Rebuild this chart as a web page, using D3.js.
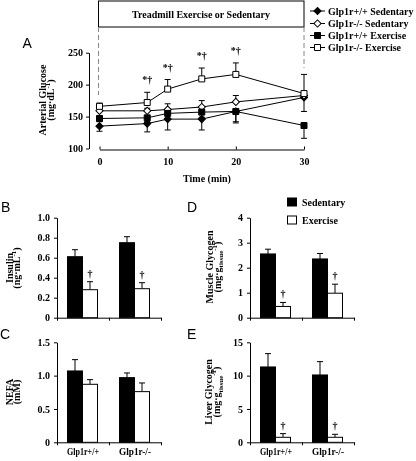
<!DOCTYPE html>
<html><head><meta charset="utf-8">
<script src="https://cdn.jsdelivr.net/npm/d3@7"></script>
<style>body{margin:0;background:#fff}svg{display:block;will-change:transform}</style>
</head><body>
<svg id="c" width="416" height="461"></svg>
<script>
// ---------- DATA ----------
const times = [0, 7, 10, 15, 20, 30];
const seriesNames = ["Glp1r+/+ Sedentary", "Glp1r-/- Sedentary", "Glp1r+/+ Exercise", "Glp1r-/- Exercise"];
const wtSed = [135, 139, 146, 146, 158, 180];
const wtSedErr = [8, 13, 17, 17, 18, 22];
const koSed = [159, 159, 161, 165, 173, 183];
const koSedErr = [4, 4, 9, 10, 10, 6];
const wtEx = [147, 148, 155, 157, 158, 136];
const wtExErr = [5, 6, 8, 8, 16, 20];
const koEx = [166, 172, 193, 209, 216, 186];
const koExErr = [5, 16, 15, 17, 18, 30];
const sigTimes = [7, 10, 15, 20];
const sigLabel = "*\u2020";
const glucoseTicks = [100, 150, 200, 250];
const timeTicks = [0, 10, 20, 30];

const genotypes = ["Glp1r+/+", "Glp1r-/-"];
const conditions = ["Sedentary", "Exercise"];
const insulinSed = [0.61, 0.75], insulinSedErr = [0.07, 0.06];
const insulinEx = [0.28, 0.29], insulinExErr = [0.08, 0.06];
const nefaSed = [1.07, 0.97], nefaSedErr = [0.17, 0.07];
const nefaEx = [0.87, 0.76], nefaExErr = [0.07, 0.13];
const muscleSed = [2.55, 2.35], muscleSedErr = [0.19, 0.22];
const muscleEx = [0.45, 0.98], muscleExErr = [0.16, 0.36];
const liverSed = [11.3, 10.1], liverSedErr = [2.0, 2.0];
const liverEx = [0.75, 0.75], liverExErr = [0.55, 0.45];
const insulinTicks = [0, 0.2, 0.4, 0.6, 0.8, 1.0];
const nefaTicks = [0, 0.5, 1.0, 1.5];
const muscleTicks = [0, 1, 2, 3, 4];
const liverTicks = [0, 5, 10, 15];

// ---------- SETUP ----------
const svg = d3.select("#c");
svg.append("rect").attr("width", 416).attr("height", 461).attr("fill", "#fff");
const SERIF = "'Liberation Serif','Times New Roman',serif";
const SANS = "'Liberation Sans',Arial,sans-serif";

function styleAxis(g, fs) {
  g.selectAll("path,line").attr("stroke", "#000").attr("stroke-width", 1);
  g.selectAll("text").attr("font-family", SERIF).attr("font-weight", "bold")
    .attr("font-size", fs || 10).attr("fill", "#000");
}
function panelLetter(t, x, y) {
  svg.append("text").attr("x", x).attr("y", y).text(t)
    .attr("font-family", SANS).attr("font-size", 14).attr("fill", "#000");
}
function yTitle(x1, x2, cy, line1, parts) {
  svg.append("text").attr("transform", `translate(${x1},${cy}) rotate(-90)`)
    .attr("text-anchor", "middle").attr("dy", "0.35em").attr("fill", "#000")
    .attr("font-family", SERIF).attr("font-weight", "bold").attr("font-size", 10)
    .text(line1);
  const t = svg.append("text").attr("transform", `translate(${x2},${cy}) rotate(-90)`)
    .attr("text-anchor", "middle").attr("dy", "0.35em").attr("fill", "#000")
    .attr("font-family", SERIF).attr("font-weight", "bold").attr("font-size", 10);
  let cur = 0;
  parts.forEach(([txt, kind]) => {
    const target = kind === "sup" ? -4 : kind === "sub" ? 2.5 : 0;
    t.append("tspan").attr("dy", target - cur)
      .attr("font-size", kind === "n" ? 10 : 7).text(txt);
    cur = target;
  });
}
function dagger(x, y, txt) {
  svg.append("text").attr("transform", `translate(${x},${y}) rotate(0.01)`)
    .attr("text-anchor", "middle").attr("fill", "#000")
    .attr("font-family", SERIF).attr("font-weight", "bold").attr("font-size", 10).text(txt);
}

// ---------- PANEL A ----------
const xA = d3.scaleLinear().domain([0, 30]).range([99.5, 304]);
const yA = d3.scaleLinear().domain([100, 250]).range([148.5, 52.7]);

svg.append("rect").attr("x", 98.5).attr("y", 1).attr("width", 205.5).attr("height", 26)
  .attr("fill", "#fff").attr("stroke", "#000");
svg.append("text").attr("x", 201).attr("y", 17.5).attr("text-anchor", "middle").attr("fill", "#000")
  .attr("font-family", SERIF).attr("font-weight", "bold").attr("font-size", 10)
  .text("Treadmill Exercise or Sedentary");
svg.append("line").attr("x1", xA(0) - 1).attr("x2", xA(0) - 1).attr("y1", 27).attr("y2", 95)
  .attr("stroke", "#888").attr("stroke-dasharray", "5,3");
svg.append("line").attr("x1", xA(30)).attr("x2", xA(30)).attr("y1", 27).attr("y2", 68)
  .attr("stroke", "#888").attr("stroke-dasharray", "5,3");

const gyA = svg.append("g").attr("transform", "translate(89,0)")
  .call(d3.axisLeft(yA).tickValues(glucoseTicks).tickSize(3).tickSizeOuter(0).tickPadding(3));
styleAxis(gyA);
const gxA = svg.append("g").attr("transform", "translate(0,149.5)")
  .call(d3.axisBottom(xA).tickValues(timeTicks).tickSize(-3).tickSizeOuter(0));
styleAxis(gxA);
gxA.selectAll("text").attr("y", 15.5).attr("dy", 0);
svg.append("text").attr("x", 207).attr("y", 181.5).attr("text-anchor", "middle").attr("fill", "#000")
  .attr("font-family", SERIF).attr("font-weight", "bold").attr("font-size", 10).text("Time (min)");
yTitle(42, 54, 100, "Arterial Glucose", [["(mg\u00b7dL", "n"], ["-1", "sup"], [")", "n"]]);
panelLetter("A", 22.5, 47.5);

const series = [
  { name: seriesNames[0], v: wtSed, e: wtSedErr, dir: 1, shape: "diamond", fill: "#000" },
  { name: seriesNames[1], v: koSed, e: koSedErr, dir: -1, shape: "diamond", fill: "#fff" },
  { name: seriesNames[2], v: wtEx, e: wtExErr, dir: 1, shape: "square", fill: "#000" },
  { name: seriesNames[3], v: koEx, e: koExErr, dir: -1, shape: "square", fill: "#fff" },
];
const line = d3.line().x(d => xA(d[0])).y(d => yA(d[1]));
const symSquare = d3.symbol().type(d3.symbolSquare).size(36)();
const symDiamond = d3.symbol().type(d3.symbolSquare).size(26)();
function marker(g, shape, fill, x, y) {
  g.append("path").attr("d", shape === "square" ? symSquare : symDiamond)
    .attr("transform", `translate(${x},${y})` + (shape === "diamond" ? " rotate(45)" : ""))
    .attr("fill", fill).attr("stroke", "#000").attr("stroke-width", 1);
}
const gA = svg.append("g");
series.forEach(s => {
  gA.append("path").datum(times.map((t, i) => [t, s.v[i]])).attr("d", line)
    .attr("fill", "none").attr("stroke", "#000").attr("stroke-width", 1);
});
series.forEach(s => {
  times.forEach((t, i) => {
    const x = xA(t), y0 = yA(s.v[i]), y1 = yA(s.v[i] - s.dir * s.e[i]);
    gA.append("line").attr("x1", x).attr("x2", x).attr("y1", y0).attr("y2", y1).attr("stroke", "#000");
    gA.append("line").attr("x1", x - 3).attr("x2", x + 3).attr("y1", y1).attr("y2", y1).attr("stroke", "#000");
  });
});
series.forEach(s => times.forEach((t, i) => marker(gA, s.shape, s.fill, xA(t), yA(s.v[i]))));
sigTimes.forEach(t => {
  const i = times.indexOf(t);
  dagger(xA(t), yA(koEx[i] + koExErr[i]) - 9, sigLabel);
});
const legY = [11, 23.5, 35.5, 47.5];
series.forEach((s, i) => {
  svg.append("line").attr("x1", 310).attr("x2", 325).attr("y1", legY[i]).attr("y2", legY[i]).attr("stroke", "#000");
  marker(svg, s.shape, s.fill, 317.5, legY[i]);
  svg.append("text").attr("x", 328).attr("y", legY[i] + 3.5).attr("fill", "#000")
    .attr("font-family", SERIF).attr("font-weight", "bold").attr("font-size", 10).text(s.name);
});

// ---------- BAR PANELS ----------
function barPanel(opt) {
  const { x0, x1, yTop, yBot, domain, ticks, fmt, sed, sedErr, ex, exErr, showDagger, xlabels } = opt;
  const y = d3.scaleLinear().domain(domain).range([yBot, yTop]);
  const xb = d3.scaleBand().domain(genotypes).range([x0, x1]);
  const gy = svg.append("g").attr("transform", `translate(${x0},0)`)
    .call(d3.axisLeft(y).tickValues(ticks).tickFormat(fmt).tickSize(3).tickSizeOuter(0).tickPadding(4));
  styleAxis(gy);
  const xt = d3.scaleLinear().domain([0, 2]).range([x0, x1]);
  const gx = svg.append("g").attr("transform", `translate(0,${yBot})`)
    .call(d3.axisBottom(xt).tickValues([0, 1, 2]).tickFormat("").tickSize(3).tickSizeOuter(0));
  styleAxis(gx);
  const bw = 15;
  genotypes.forEach((gname, i) => {
    const c = xb(gname) + xb.bandwidth() / 2 - 0.5;
    [[sed, sedErr, "#000", c - bw], [ex, exErr, "#fff", c]].forEach(([v, e, fill, bx], k) => {
      const yt = y(v[i]), ye = y(v[i] + e[i]), cx = bx + bw / 2;
      svg.append("line").attr("x1", cx).attr("x2", cx).attr("y1", yt).attr("y2", ye).attr("stroke", "#000");
      svg.append("line").attr("x1", cx - 3).attr("x2", cx + 3).attr("y1", ye).attr("y2", ye).attr("stroke", "#000");
      svg.append("rect").attr("x", bx).attr("y", yt).attr("width", bw).attr("height", yBot - yt)
        .attr("fill", fill).attr("stroke", "#000").attr("stroke-width", 1);
      if (k === 1 && showDagger) dagger(cx, ye - 5, "\u2020");
    });
    if (xlabels) {
      svg.append("text").attr("x", xb(gname) + xb.bandwidth() / 2).attr("y", yBot + 13)
        .attr("text-anchor", "middle").attr("font-family", SERIF).attr("font-weight", "bold")
        .attr("fill", "#000").attr("font-size", 10)
        .attr("textLength", 32).attr("lengthAdjust", "spacingAndGlyphs").text(gname);
    }
  });
}
const fmt1 = d => d === 0 ? "0" : d3.format(".1f")(d);
const fmt0 = d3.format("d");
barPanel({ x0: 57, x1: 161, yTop: 217.7, yBot: 317.7, domain: [0, 1], ticks: insulinTicks, fmt: fmt1,
  sed: insulinSed, sedErr: insulinSedErr, ex: insulinEx, exErr: insulinExErr, showDagger: true });
barPanel({ x0: 57, x1: 161, yTop: 342.3, yBot: 442.3, domain: [0, 1.5], ticks: nefaTicks, fmt: fmt1,
  sed: nefaSed, sedErr: nefaSedErr, ex: nefaEx, exErr: nefaExErr, showDagger: false, xlabels: true });
barPanel({ x0: 250, x1: 354, yTop: 217.7, yBot: 317.7, domain: [0, 4], ticks: muscleTicks, fmt: fmt0,
  sed: muscleSed, sedErr: muscleSedErr, ex: muscleEx, exErr: muscleExErr, showDagger: true });
barPanel({ x0: 250, x1: 354, yTop: 342.3, yBot: 442.3, domain: [0, 15], ticks: liverTicks, fmt: fmt0,
  sed: liverSed, sedErr: liverSedErr, ex: liverEx, exErr: liverExErr, showDagger: true, xlabels: true });

panelLetter("B", 1, 212);
panelLetter("C", 0, 339);
panelLetter("D", 187, 212);
panelLetter("E", 187, 339);
yTitle(9, 19.5, 268, "Insulin", [["(ng\u00b7mL", "n"], ["-1", "sup"], [")", "n"]]);
yTitle(9, 20, 392, "NEFA", [["(mM)", "n"]]);
yTitle(209, 220.5, 267, "Muscle Glycogen", [["(mg\u00b7g", "n"], ["tissue", "sub"], ["-1", "sup"], [")", "n"]]);
yTitle(208.5, 220, 392, "Liver Glycogen", [["(mg\u00b7g", "n"], ["tissue", "sub"], ["-1", "sup"], [")", "n"]]);

conditions.forEach((c, i) => {
  const yy = 198 + i * 18;
  svg.append("rect").attr("x", 287.5).attr("y", yy).attr("width", 9).attr("height", 8)
    .attr("fill", i === 0 ? "#000" : "#fff").attr("stroke", "#000");
  svg.append("text").attr("x", 302).attr("y", yy + 7.5).attr("fill", "#000")
    .attr("font-family", SERIF).attr("font-weight", "bold").attr("font-size", 10).text(c);
});
</script>
</body></html>
